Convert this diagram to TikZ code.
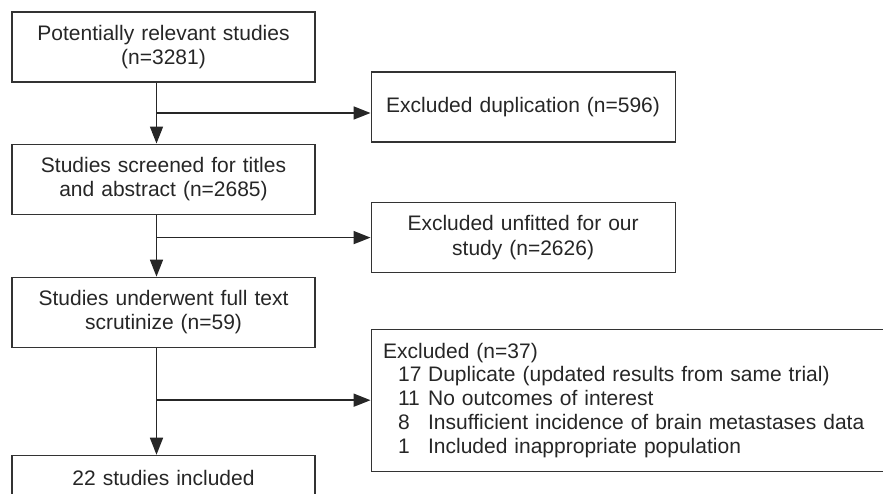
\documentclass[tikz,border=0pt]{standalone}
\usepackage{fontspec}
\setmainfont{Liberation Sans}
\usetikzlibrary{arrows.meta,positioning,calc}

\begin{document}
\begin{tikzpicture}[
    node distance=61pt,
    box/.style={rectangle, draw=black!80, line width=1.1pt, minimum width=303pt, minimum height=70pt, text width=285pt, align=center, text=black!85, font=\fontsize{21}{24.5}\selectfont},
    exbox/.style={box, minimum width=304pt},
    listbox/.style={box, text width=506pt, inner xsep=12pt, minimum height=142pt, align=left, font=\fontsize{21}{23.8}\selectfont},
    arrow/.style={-{Triangle[length=17pt,width=13pt]}, line width=1.6pt, draw=black!85}
]
    \path[use as bounding box, clip] (0,0) rectangle (883pt,494pt);

    % Main column
    \node[box] (found) at (163.5pt,447pt) {Potentially relevant studies\\(n=3281)};
    \node[box, below=of found] (screened) {Studies screened for titles\\and abstract (n=2685)};
    \node[box, below=62pt of screened] (fulltext) {Studies underwent full text\\scrutinize (n=59)};
    \node[box, below=107pt of fulltext, minimum height=46pt] (included) {22 studies included};

    % Exclusions
    \node[exbox, right=55pt of found, yshift=-60pt] (dupl) {Excluded duplication (n=596)};
    \node[exbox, right=55pt of screened, yshift=-58.5pt] (unfit) {Excluded unfitted for our\\study (n=2626)};
    \node[listbox, right=55pt of fulltext, yshift=-88pt] (reasons) {Excluded (n=37)\\
        \hspace*{15pt}\makebox[30pt][l]{17}Duplicate (updated results from same trial)\\
        \hspace*{15pt}\makebox[30pt][l]{11}No outcomes of interest\\
        \hspace*{15pt}\makebox[30pt][l]{8}Insufficient incidence of brain metastases data\\
        \hspace*{15pt}\makebox[30pt][l]{1}Included inappropriate population};

    % Branch points
    \coordinate (j1) at ($(dupl.west -| found.south)+(-7pt,-6pt)$);
    \coordinate (j2) at ($(unfit.west -| screened.south)+(-7pt,0)$);
    \coordinate (j3) at ($(reasons.west -| fulltext.south)+(-7pt,0)$);

    % Connections
    \draw[arrow] ([xshift=-7pt]found.south) -- ([xshift=-7pt]screened.north);
    \draw[arrow] ([xshift=-7pt]screened.south) -- ([xshift=-7pt]fulltext.north);
    \draw[arrow] ([xshift=-7pt]fulltext.south) -- ([xshift=-7pt]included.north);
    \draw[arrow] (j1) -- (j1 -| dupl.west);
    \draw[arrow] (j2) -- (unfit.west);
    \draw[arrow] (j3) -- (reasons.west);
\end{tikzpicture}
\end{document}
